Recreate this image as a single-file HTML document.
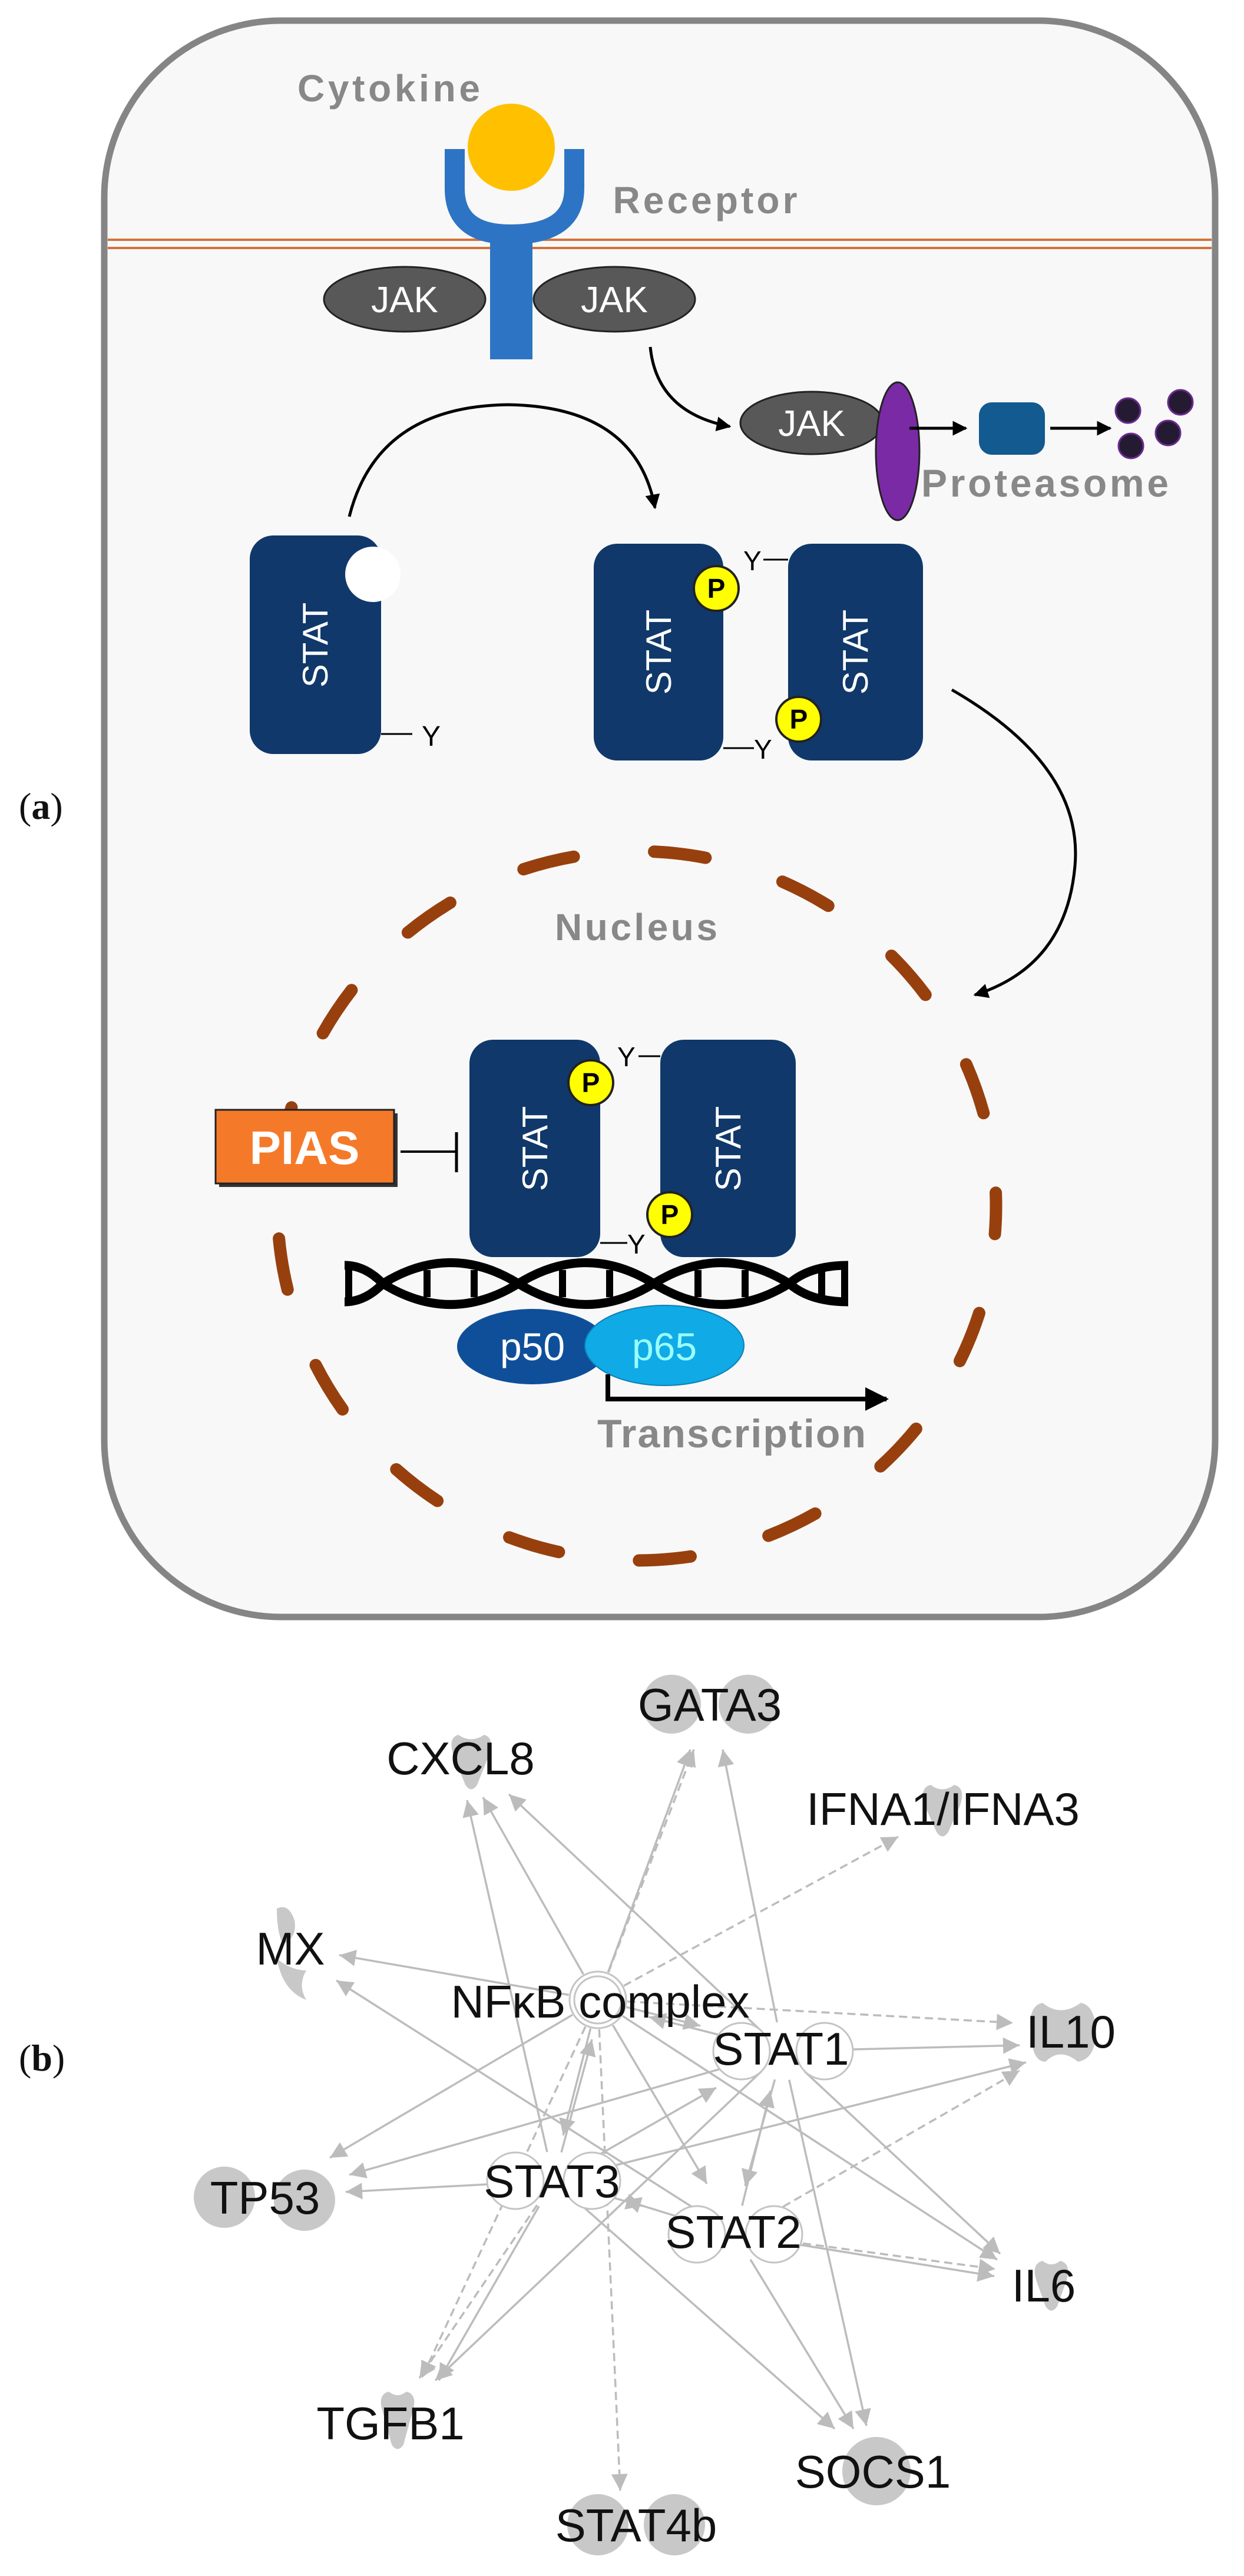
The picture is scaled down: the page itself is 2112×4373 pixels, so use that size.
<!DOCTYPE html>
<html><head><meta charset="utf-8">
<style>
html,body{margin:0;padding:0;background:#fff;}
svg{display:block;}
.lbl{font-family:"Liberation Sans",Arial,sans-serif;font-weight:bold;fill:#888;}
.wt{font-family:"Liberation Sans",Arial,sans-serif;fill:#fff;}
.nb{font-family:"Liberation Sans",Arial,sans-serif;fill:#111;font-size:78px;}
.pl{font-family:"Liberation Serif",serif;font-size:64px;fill:#111;}
</style></head>
<body>
<svg id="s" width="2112" height="4373" viewBox="0 0 2112 4373" xmlns="http://www.w3.org/2000/svg">
<defs>
<marker id="ab" viewBox="0 0 10 10" refX="9" refY="5" markerWidth="5" markerHeight="5" orient="auto" markerUnits="strokeWidth"><path d="M0,0 L10,5 L0,10 z" fill="#000"/></marker>
<marker id="ag" viewBox="0 0 10 10" refX="10" refY="5" markerWidth="9" markerHeight="8" orient="auto" markerUnits="strokeWidth"><path d="M0,0 L10,5 L0,10 z" fill="#bcbcbc"/></marker>
</defs>
<rect width="2112" height="4373" fill="#fff"/>
<!-- cell -->
<rect x="177" y="35" width="1886" height="2710" rx="300" ry="300" fill="#f8f8f8" stroke="#858585" stroke-width="11"/>
<line x1="183" y1="407" x2="2057" y2="407" stroke="#d2733a" stroke-width="4"/>
<line x1="183" y1="421" x2="2057" y2="421" stroke="#d2733a" stroke-width="4"/>
<text class="lbl" x="660" y="172" font-size="64" text-anchor="middle" textLength="310">Cytokine</text>
<text class="lbl" x="1197" y="362" font-size="64" text-anchor="middle" textLength="313">Receptor</text>
<!-- JAKs -->
<ellipse cx="687" cy="508" rx="137" ry="55" fill="#585858" stroke="#222" stroke-width="3"/>
<ellipse cx="1043" cy="508" rx="137" ry="55" fill="#585858" stroke="#222" stroke-width="3"/>
<text class="wt" x="687" y="530" font-size="62" text-anchor="middle">JAK</text>
<text class="wt" x="1043" y="530" font-size="62" text-anchor="middle">JAK</text>
<!-- receptor -->
<path d="M772 253 V320 Q772 398 866 398 Q975 398 975 320 V253" fill="none" stroke="#2e74c4" stroke-width="34"/>
<rect x="832" y="390" width="72" height="220" fill="#2e74c4"/>
<circle cx="868" cy="250" r="74" fill="#ffc000"/>
<!-- degradation -->
<path d="M1104 589 Q1115 700 1239 724" fill="none" stroke="#000" stroke-width="5" marker-end="url(#ab)"/>
<ellipse cx="1378" cy="718" rx="121" ry="53" fill="#585858" stroke="#222" stroke-width="3"/>
<text class="wt" x="1378" y="740" font-size="62" text-anchor="middle">JAK</text>
<ellipse cx="1524" cy="766" rx="37" ry="117" fill="#7b2aa6" stroke="#222" stroke-width="3"/>
<line x1="1544" y1="727" x2="1640" y2="727" stroke="#000" stroke-width="5" marker-end="url(#ab)"/>
<rect x="1662" y="683" width="112" height="89" rx="22" fill="#125a90"/>
<line x1="1783" y1="727" x2="1885" y2="727" stroke="#000" stroke-width="5" marker-end="url(#ab)"/>
<g fill="#241b33" stroke="#6a2a90" stroke-width="3">
<circle cx="1915" cy="697" r="21"/><circle cx="2004" cy="683" r="21"/><circle cx="1983" cy="735" r="21"/><circle cx="1920" cy="757" r="21"/></g>
<text class="lbl" x="1774" y="843" font-size="66" text-anchor="middle" textLength="420">Proteasome</text>
<!-- curved arrow STAT -> dimer -->
<path d="M593 877 Q640 690 862 687 Q1080 690 1112 862" fill="none" stroke="#000" stroke-width="5" marker-end="url(#ab)"/>
<!-- single STAT -->
<rect x="424" y="909" width="223" height="371" rx="40" fill="#10386a"/>
<circle cx="633" cy="975" r="47" fill="#fff"/>
<line x1="647" y1="1246" x2="700" y2="1246" stroke="#000" stroke-width="3"/>
<text x="716" y="1266" font-size="48" font-family="Liberation Sans,sans-serif" fill="#000">Y</text>
<text class="wt" transform="rotate(-90 535 1095)" x="535" y="1116" font-size="60" text-anchor="middle">STAT</text>
<!-- dimer -->
<rect x="1008" y="923" width="220" height="368" rx="40" fill="#10386a"/>
<rect x="1338" y="923" width="229" height="368" rx="40" fill="#10386a"/>
<text class="wt" transform="rotate(-90 1118 1107)" x="1118" y="1128" font-size="60" text-anchor="middle">STAT</text>
<text class="wt" transform="rotate(-90 1452 1107)" x="1452" y="1128" font-size="60" text-anchor="middle">STAT</text>
<line x1="1296" y1="950" x2="1338" y2="950" stroke="#000" stroke-width="3"/>
<text x="1262" y="968" font-size="46" font-family="Liberation Sans,sans-serif" fill="#000">Y</text>
<line x1="1228" y1="1270" x2="1280" y2="1270" stroke="#000" stroke-width="3"/>
<text x="1280" y="1288" font-size="46" font-family="Liberation Sans,sans-serif" fill="#000">Y</text>
<g font-family="Liberation Sans,sans-serif" font-weight="bold" font-size="46" text-anchor="middle">
<circle cx="1216" cy="999" r="38" fill="#ffff00" stroke="#222" stroke-width="4"/><text x="1216" y="1015">P</text>
<circle cx="1356" cy="1221" r="38" fill="#ffff00" stroke="#222" stroke-width="4"/><text x="1356" y="1237">P</text>
</g>
<!-- arrow to nucleus -->
<path d="M1616 1171 Q1840 1300 1825 1470 Q1810 1640 1655 1689" fill="none" stroke="#000" stroke-width="5" marker-end="url(#ab)"/>
<!-- nucleus -->
<ellipse cx="1081" cy="2047" rx="610" ry="602" fill="none" stroke="#97400e" stroke-width="21" stroke-linecap="round" stroke-dasharray="88 137" stroke-dashoffset="40"/>
<text class="lbl" x="1080" y="1596" font-size="64" text-anchor="middle" textLength="276">Nucleus</text>
<!-- nuclear dimer -->
<rect x="797" y="1765" width="222" height="369" rx="40" fill="#10386a"/>
<rect x="1121" y="1765" width="230" height="369" rx="40" fill="#10386a"/>
<text class="wt" transform="rotate(-90 908 1950)" x="908" y="1971" font-size="60" text-anchor="middle">STAT</text>
<text class="wt" transform="rotate(-90 1236 1950)" x="1236" y="1971" font-size="60" text-anchor="middle">STAT</text>
<line x1="1084" y1="1793" x2="1121" y2="1793" stroke="#000" stroke-width="3"/>
<text x="1048" y="1810" font-size="46" font-family="Liberation Sans,sans-serif" fill="#000">Y</text>
<line x1="1019" y1="2110" x2="1065" y2="2110" stroke="#000" stroke-width="3"/>
<text x="1065" y="2128" font-size="46" font-family="Liberation Sans,sans-serif" fill="#000">Y</text>
<g font-family="Liberation Sans,sans-serif" font-weight="bold" font-size="46" text-anchor="middle">
<circle cx="1003" cy="1838" r="38" fill="#ffff00" stroke="#222" stroke-width="4"/><text x="1003" y="1854">P</text>
<circle cx="1137" cy="2062" r="38" fill="#ffff00" stroke="#222" stroke-width="4"/><text x="1137" y="2078">P</text>
</g>
<!-- PIAS -->
<rect x="372" y="1890" width="303" height="125" fill="#333"/>
<rect x="366" y="1884" width="303" height="125" fill="#f47a2a" stroke="#222" stroke-width="3"/>
<text x="517" y="1976" font-size="80" font-family="Liberation Sans,sans-serif" font-weight="bold" fill="#fff" text-anchor="middle">PIAS</text>
<line x1="680" y1="1955" x2="775" y2="1955" stroke="#000" stroke-width="4"/>
<line x1="775" y1="1922" x2="775" y2="1990" stroke="#000" stroke-width="5"/>
<!-- DNA -->
<g stroke="#000" fill="none" stroke-width="15">
<path d="M585 2148 Q620 2148 650 2179 Q765 2250 880 2179 Q995 2108 1110 2179 Q1225 2250 1340 2179 Q1375 2148 1440 2148"/>
<path d="M585 2210 Q620 2210 650 2179 Q765 2108 880 2179 Q995 2250 1110 2179 Q1225 2108 1340 2179 Q1375 2210 1440 2210"/>
<path d="M592 2143 V2215 M1434 2143 V2215 M725 2156 V2202 M805 2156 V2202 M955 2156 V2202 M1035 2156 V2202 M1185 2156 V2202 M1265 2156 V2202 M1395 2152 V2206" stroke-width="12"/>
</g>
<!-- p50 p65 -->
<ellipse cx="904" cy="2286" rx="128" ry="64" fill="#0f4f9a"/>
<ellipse cx="1128" cy="2284" rx="135" ry="68" fill="#10aae6" stroke="#0b80b8" stroke-width="2"/>
<text class="wt" x="904" y="2309" font-size="66" text-anchor="middle">p50</text>
<text x="1128" y="2309" font-size="66" text-anchor="middle" font-family="Liberation Sans,sans-serif" fill="#9ff">p65</text>
<path d="M1032 2333 V2375 H1505" fill="none" stroke="#000" stroke-width="8" marker-end="url(#ab)"/>
<text class="lbl" x="1242" y="2457" font-size="68" text-anchor="middle" textLength="456">Transcription</text>
<text class="pl" x="32" y="1390">(<tspan font-weight="bold">a</tspan>)</text>
<text class="pl" x="32" y="3515">(<tspan font-weight="bold">b</tspan>)</text>

<!-- panel b blobs -->
<g fill="#c8c8c8">
<circle cx="1140" cy="2893" r="50"/><circle cx="1270" cy="2893" r="50"/>
<circle cx="381" cy="3730" r="52"/><circle cx="517" cy="3735" r="52"/>
<circle cx="1015" cy="4286" r="52"/><circle cx="1145" cy="4286" r="52"/>
<circle cx="1488" cy="4195" r="58"/>
<path d="M778 2945 Q760 2950 770 2980 L790 3030 Q800 3045 810 3030 L830 2980 Q840 2950 822 2945 Q800 2960 778 2945z"/>
<path d="M1580 3030 Q1560 3035 1570 3065 L1590 3110 Q1600 3125 1610 3110 L1630 3065 Q1640 3035 1620 3030 Q1600 3045 1580 3030z"/>
<path d="M1770 3838 Q1750 3843 1760 3873 L1775 3915 Q1785 3930 1795 3915 L1810 3873 Q1820 3843 1800 3838 Q1785 3850 1770 3838z"/>
<path d="M660 4060 Q640 4065 650 4095 L665 4150 Q675 4165 685 4150 L700 4095 Q710 4065 690 4060 Q675 4072 660 4060z"/>
<path d="M1770 3400 Q1745 3405 1750 3450 Q1752 3500 1775 3500 Q1800 3475 1830 3500 Q1860 3495 1860 3450 Q1860 3405 1835 3400 Q1800 3425 1770 3400z"/>
<path d="M470 3240 Q490 3230 500 3260 Q505 3290 480 3300 Q470 3280 470 3240z"/>
<path d="M470 3325 Q480 3380 520 3395 Q505 3370 520 3345 Q495 3345 470 3325z"/>
</g>
<g id="edges" stroke="#bcbcbc" stroke-width="3.5" fill="none"></g>
<!-- nodes white circles -->
<g fill="#fff" stroke="#c4c4c4" stroke-width="3">
<circle cx="1015" cy="3395" r="48"/><circle cx="1015" cy="3395" r="40"/>
<circle cx="1259" cy="3482" r="48"/><circle cx="1400" cy="3482" r="48"/>
<circle cx="875" cy="3702" r="48"/><circle cx="1005" cy="3702" r="48"/>
<circle cx="1183" cy="3793" r="48"/><circle cx="1314" cy="3793" r="48"/>
</g>
<g class="nb" text-anchor="middle">
<text x="1205" y="2921">GATA3</text>
<text x="782" y="3012">CXCL8</text>
<text x="1601" y="3098">IFNA1/IFNA3</text>
<text x="493" y="3335">MX</text>
<text x="1019" y="3425">NFκB complex</text>
<text x="1326" y="3505">STAT1</text>
<text x="1818" y="3476">IL10</text>
<text x="937" y="3730">STAT3</text>
<text x="450" y="3758">TP53</text>
<text x="1245" y="3816">STAT2</text>
<text x="1772" y="3907">IL6</text>
<text x="663" y="4141">TGFB1</text>
<text x="1482" y="4223">SOCS1</text>
<text x="1080" y="4314">STAT4b</text>
</g>
</svg>
<script>
(function(){
var NF=[1015,3395],S1=[1329,3482],S3=[940,3702],S2=[1248,3793];
var E=[
[S3,[793,3056]],[NF,[820,3051]],[S1,[864,3046]],
[NF,[1178,2970],1],[NF,[1172,2970]],[S1,[1227,2970]],
[NF,[1525,3118],1],
[NF,[576,3319]],[S2,[571,3362]],
[NF,[1720,3434],1],[S1,[1731,3472]],[S3,[1742,3501]],[S2,[1731,3515],1],
[NF,[560,3663]],[S1,[593,3692]],[S3,[587,3721]],
[S1,[1698,3826]],[NF,[1693,3836]],[S2,[1688,3864]],[S2,[1690,3852],1],
[S3,[712,4037],1],[NF,[716,4037],1],[S1,[739,4041]],[S3,[745,4041]],
[S3,[1417,4123]],[S2,[1449,4123]],[S1,[1471,4118]],
[NF,[1053,4228],1],
[NF,[956,3625]],[S3,[1005,3462]],[S3,[1216,3544]],[S2,[1308,3549]],
[NF,[1200,3707]],[S1,[1265,3711]],[NF,[1189,3439]],[S1,[1102,3424]],
[S3,[1091,3745]],[S2,[1060,3735]]
];
var g=document.getElementById('edges'),ns='http://www.w3.org/2000/svg';
E.forEach(function(e){
var s=e[0],t=e[1],dx=t[0]-s[0],dy=t[1]-s[1],L=Math.sqrt(dx*dx+dy*dy),o=50;
var l=document.createElementNS(ns,'line');
l.setAttribute('x1',s[0]+dx/L*o);l.setAttribute('y1',s[1]+dy/L*o);
l.setAttribute('x2',t[0]);l.setAttribute('y2',t[1]);
if(e[2])l.setAttribute('stroke-dasharray','14 8');
l.setAttribute('marker-end','url(#ag)');
g.appendChild(l);});
})();
</script>
</body></html>
